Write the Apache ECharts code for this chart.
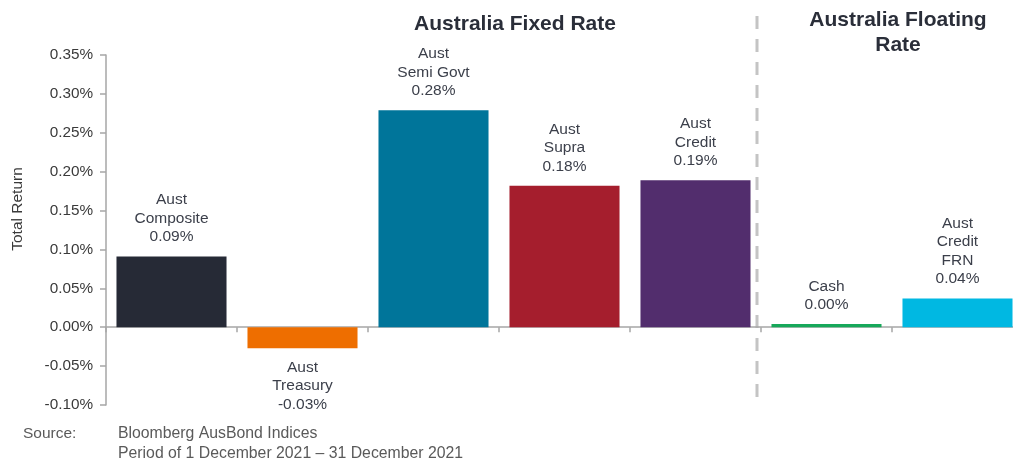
<!DOCTYPE html>
<html>
<head>
    <meta charset="utf-8">
    <title>Total Return</title>
    <script src="https://cdn.jsdelivr.net/npm/echarts@6/dist/echarts.min.js"></script>
    <style>
        html, body { margin: 0; padding: 0; background: #ffffff; }
        #main { width: 1013px; height: 459px; }
    </style>
</head>
<body>
<div id="main"></div>
<script>
    // categories (shown as bar labels) and monthly returns in %
    var categories = ['Aust\nComposite', 'Aust\nTreasury', 'Aust\nSemi Govt', 'Aust\nSupra', 'Aust\nCredit', 'Cash', 'Aust\nCredit\nFRN'];
    var values = [0.091, -0.027, 0.279, 0.182, 0.189, 0.004, 0.037];
    var colors = ['#262a36', '#ee6e00', '#00759a', '#a51e2d', '#522d6d', '#17a85a', '#00b8e2'];
    var yTicks = [-0.10, -0.05, 0.00, 0.05, 0.10, 0.15, 0.20, 0.25, 0.30, 0.35];

    var chart = echarts.init(document.getElementById('main'));
    var font = 'Liberation Sans, Arial, sans-serif';

    var data = values.map(function (v, i) {
        return {
            value: v,
            itemStyle: { color: colors[i] },
            label: { position: v < 0 ? 'bottom' : 'top' }
        };
    });

    var option = {
        animation: false,
        // plot runs past the right edge of the canvas, like the original
        grid: { left: 106, width: 917, top: 55, bottom: 54, outerBoundsMode: 'none' },
        xAxis: {
            type: 'category',
            data: categories,
            axisLine: { onZero: true, lineStyle: { color: '#a6a6a6', width: 1.5 } },
            axisTick: { show: true, length: 5, lineStyle: { color: '#a6a6a6', width: 1.5 } },
            axisLabel: { show: false },
            splitLine: { show: false }
        },
        yAxis: {
            type: 'value',
            min: yTicks[0],
            max: yTicks[yTicks.length - 1],
            interval: 0.05,
            axisLine: { show: true, lineStyle: { color: '#a6a6a6', width: 1.5 } },
            axisTick: { show: true, length: 6, lineStyle: { color: '#a6a6a6', width: 1.5 } },
            axisLabel: {
                color: '#3a3a3a',
                fontFamily: font,
                fontSize: 15.3,
                margin: 13,
                formatter: function (v) { return v.toFixed(2) + '%'; }
            },
            splitLine: { show: false }
        },
        series: [{
            type: 'bar',
            data: data,
            barCategoryGap: '16%',
            label: {
                show: true,
                distance: 10,
                color: '#3b3f4a',
                fontFamily: font,
                fontSize: 15.5,
                lineHeight: 18.5,
                formatter: function (p) {
                    return categories[p.dataIndex] + '\n' + p.value.toFixed(2) + '%';
                }
            }
        }],
        graphic: [
            {
                type: 'text', x: 515, y: 24,
                style: {
                    text: 'Australia Fixed Rate', align: 'center', verticalAlign: 'middle',
                    font: 'bold 21px ' + font, fill: '#2a2e39'
                }
            },
            {
                type: 'text', x: 898, y: 33,
                style: {
                    text: 'Australia Floating\nRate', align: 'center', verticalAlign: 'middle',
                    font: 'bold 21px ' + font, fill: '#2a2e39', lineHeight: 25
                }
            },
            {
                type: 'text', x: 18, y: 209, rotation: Math.PI / 2,
                style: {
                    text: 'Total Return', align: 'center', verticalAlign: 'middle',
                    font: '15.5px ' + font, fill: '#3a3a3a'
                }
            },
            {
                type: 'text', x: 23, y: 434,
                style: { text: 'Source:', verticalAlign: 'middle', font: '15.5px ' + font, fill: '#5a5a5a' }
            },
            {
                type: 'text', x: 118, y: 444,
                style: {
                    text: 'Bloomberg AusBond Indices\nPeriod of 1 December 2021 \u2013 31 December 2021',
                    verticalAlign: 'middle', font: '15.8px ' + font, fill: '#5a5a5a', lineHeight: 20
                }
            }
        ]
    };
    chart.setOption(option);

    // dashed divider between fixed and floating groups, placed from the axis scale
    var xa = chart.convertToPixel({ xAxisIndex: 0 }, categories[4]);
    var xb = chart.convertToPixel({ xAxisIndex: 0 }, categories[5]);
    var divX = (xa + xb) / 2 - 4;
    var yTop = chart.convertToPixel({ yAxisIndex: 0 }, yTicks[yTicks.length - 1]) - 39;
    var yBot = chart.convertToPixel({ yAxisIndex: 0 }, yTicks[0]);
    chart.setOption({
        graphic: option.graphic.concat([{
            type: 'line',
            shape: { x1: divX, y1: yTop, x2: divX, y2: yBot },
            style: { stroke: '#c4c4c4', lineWidth: 3, lineDash: [13, 10] }
        }])
    });
</script>
</body>
</html>
